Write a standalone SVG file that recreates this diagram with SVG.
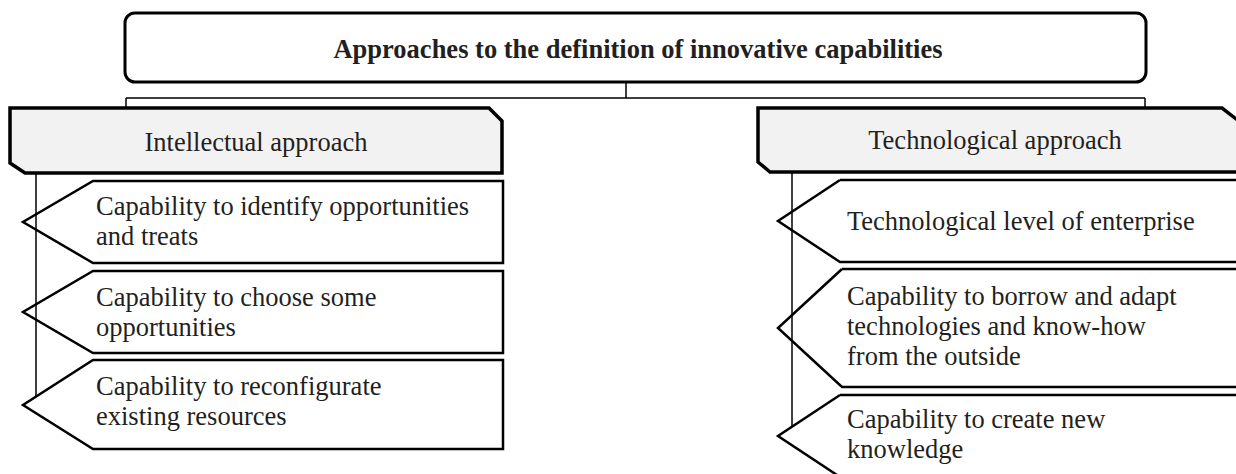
<svg xmlns="http://www.w3.org/2000/svg" width="1236" height="474" viewBox="0 0 1236 474">
  <style>
    text { font-family: "Liberation Serif", "Times New Roman", serif; font-size: 26.5px; fill: #231f20; }
    .title { font-weight: bold; text-anchor: middle; }
    .head-label { text-anchor: middle; }
    .root { fill: #ffffff; stroke: #000; stroke-width: 3; }
    .head { fill: #f2f2f2; stroke: #000; stroke-width: 3.5; stroke-linejoin: miter; }
    .item { fill: none; stroke: #000; stroke-width: 2.5; stroke-linejoin: miter; }
    .link { fill: none; stroke: #000; stroke-width: 1.5; }
  </style>
  <rect width="1236" height="474" fill="#ffffff"/>

  <!-- connectors -->
  <g id="connectors">
    <path class="link" d="M626 82 V98 M126 98 H1145 M126 98 V110 M1145 98 V110"/>
    <path class="link" d="M36 173 V397"/>
    <path class="link" d="M792 172 V427"/>
  </g>

  <g id="root">
    <rect class="root" x="125" y="13" width="1021" height="69" rx="10" ry="10"/>
    <text class="title" x="638" y="58">Approaches to the definition of innovative capabilities</text>
  </g>

  <g id="intellectual">
    <path class="head" d="M10 108 H489 L502 121 V173 H25 L10 163 Z"/>
    <text class="head-label" x="256" y="151">Intellectual approach</text>
  </g>

  <g id="technological">
    <path class="head" d="M758 108 H1222 L1240 122 V172 H770 L758 162 Z"/>
    <text class="head-label" x="995" y="149">Technological approach</text>
  </g>

  <g id="identify">
    <path class="item" d="M93 181 H503 V263 H93 L23 222 Z"/>
    <text x="96" y="215">Capability to identify opportunities</text>
    <text x="96" y="245">and treats</text>
  </g>

  <g id="choose">
    <path class="item" d="M93 271 H503 V353 H93 L23 312 Z"/>
    <text x="96" y="306">Capability to choose some</text>
    <text x="96" y="336">opportunities</text>
  </g>

  <g id="reconfigure">
    <path class="item" d="M93 360 H503 V449 H93 L23 405 Z"/>
    <text x="96" y="395">Capability to reconfigurate</text>
    <text x="96" y="425">existing resources</text>
  </g>

  <g id="tech-level">
    <path class="item" d="M840 180 H1240 M1240 262 H840 L778 221 L840 180"/>
    <text x="847" y="230">Technological level of enterprise</text>
  </g>

  <g id="borrow">
    <path class="item" d="M842 269 H1240 M1240 387 H842 L778 328 L842 269"/>
    <text x="847" y="305">Capability to borrow and adapt</text>
    <text x="847" y="335">technologies and know-how</text>
    <text x="847" y="365">from the outside</text>
  </g>

  <g id="create">
    <path class="item" d="M840 395 H1240 M1240 477 H840 L778 436 L840 395"/>
    <text x="847" y="428">Capability to create new</text>
    <text x="847" y="458">knowledge</text>
  </g>
</svg>
